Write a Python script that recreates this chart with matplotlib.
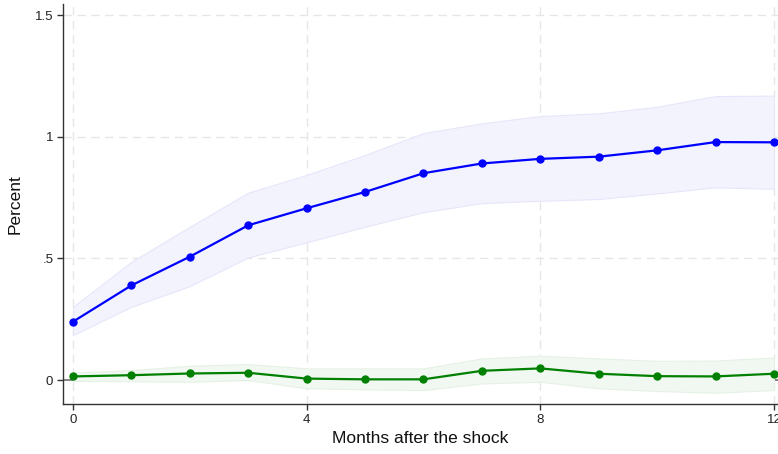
import numpy as np
import matplotlib
matplotlib.use("Agg")
from matplotlib import pyplot as plt

plt.rcParams["font.family"] = ["Liberation Sans", "DejaVu Sans"]

# Impulse responses by horizon (months), with confidence bands
months = np.arange(13)
blue_irf = [0.240, 0.389, 0.507, 0.636, 0.706, 0.773, 0.850, 0.890, 0.909, 0.918, 0.944, 0.978, 0.977]
blue_lo = [0.185, 0.301, 0.386, 0.504, 0.566, 0.630, 0.690, 0.727, 0.737, 0.744, 0.767, 0.792, 0.786]
blue_hi = [0.301, 0.486, 0.630, 0.770, 0.843, 0.925, 1.015, 1.055, 1.085, 1.096, 1.123, 1.167, 1.169]

green_irf = [0.015, 0.020, 0.027, 0.030, 0.006, 0.003, 0.003, 0.038, 0.048, 0.026, 0.016, 0.015, 0.026]
green_lo = [-0.003, -0.005, -0.007, 0.000, -0.034, -0.038, -0.041, -0.014, -0.007, -0.034, -0.045, -0.052, -0.041]
green_hi = [0.031, 0.041, 0.059, 0.066, 0.048, 0.048, 0.048, 0.089, 0.100, 0.089, 0.079, 0.080, 0.093]

xticks = [0, 4, 8, 12]
yticks = [0, 0.5, 1, 1.5]
ytick_labels = ["0", ".5", "1", "1.5"]

fig = plt.figure(figsize=(7.78, 4.54), dpi=100)
ax = fig.add_axes([0.081, 0.110, 0.919, 0.881])

# grid
for x in xticks:
    ax.axvline(x, color="#e6e6e6", lw=1, ls=(0, (6, 4)), zorder=0)
for y in yticks[1:]:
    ax.axhline(y, color="#e6e6e6", lw=1, ls=(0, (6, 4)), zorder=0)
ax.axhline(0, color="#6e6e6e", lw=1.2, zorder=1)

# bands
ax.fill_between(months, blue_lo, blue_hi, color="#f3f3fe", edgecolor="#e6e6fb", lw=0.8, zorder=2)
ax.fill_between(months, green_lo, green_hi, color="#f1f8f1", edgecolor="#e6f1e6", lw=0.8, zorder=2)

# point estimates
ax.plot(months, blue_irf, color="#0000ff", lw=1.6, marker="o", ms=5, zorder=3)
ax.plot(months, green_irf, color="#008000", lw=1.6, marker="o", ms=5, zorder=3)

ax.set_xlim(-0.171, 12.07)
ax.set_ylim(-0.0986, 1.545)
ax.set_xticks(xticks)
ax.set_yticks(yticks)
ax.set_yticklabels(ytick_labels)
ax.tick_params(axis="both", direction="out", length=4, width=1, color="#333333",
               labelsize=9.5, labelcolor="#222222", pad=3)

for side in ("top", "right"):
    ax.spines[side].set_visible(False)
for side in ("left", "bottom"):
    ax.spines[side].set_color("#333333")
    ax.spines[side].set_linewidth(1)

ax.set_xlabel("Months after the shock", fontsize=12.5, color="#111111", labelpad=4)
ax.set_ylabel("Percent", fontsize=12.5, color="#111111", labelpad=9)

fig.savefig("out.png", dpi=100)
